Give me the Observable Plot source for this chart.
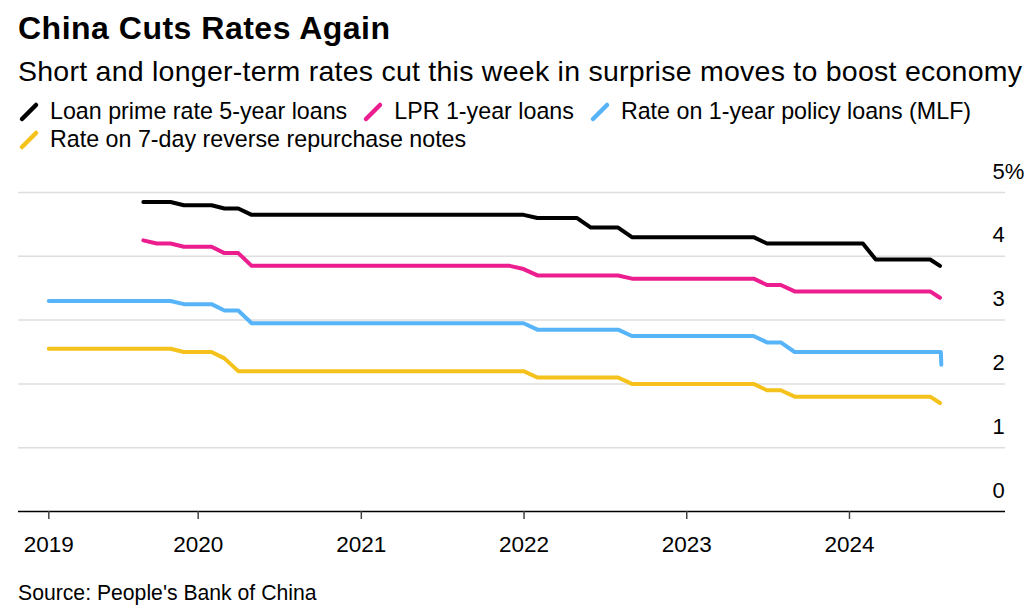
<!DOCTYPE html>
<html><head><meta charset="utf-8">
<script src="https://cdn.jsdelivr.net/npm/d3@7"></script>
<script src="https://cdn.jsdelivr.net/npm/@observablehq/plot@0.6"></script>
<style>
body{margin:0;background:#fff;font-family:"Liberation Sans",Arial,sans-serif;color:#000;}
#wrap{position:relative;width:1032px;height:611px;overflow:hidden;background:#fff}
.t{position:absolute;left:18px;white-space:nowrap;line-height:1;}
#title{top:12px;font-size:32px;font-weight:bold;letter-spacing:0.5px}
#sub{top:57px;font-size:28.5px;letter-spacing:0.25px}
.leg{position:absolute;left:18px;display:flex;font-size:23.25px;line-height:1;white-space:nowrap}
.item{display:flex;align-items:center;margin-right:15px}
.sw{width:22px;height:22px;margin-right:10px;display:block}
#chart{position:absolute;left:0;top:160px}
#src{top:582px;font-size:21.2px;}
</style></head><body>
<div id="wrap">
  <div id="title" class="t">China Cuts Rates Again</div>
  <div id="sub" class="t">Short and longer-term rates cut this week in surprise moves to boost economy</div>
  <div id="leg1" class="leg" style="top:100px"></div>
  <div id="leg2" class="leg" style="top:128px"></div>
  <div id="chart"></div>
  <div id="src" class="t">Source: People's Bank of China</div>
</div>
<script>
// Series names and colours
const seriesNames = ["Loan prime rate 5-year loans", "LPR 1-year loans", "Rate on 1-year policy loans (MLF)", "Rate on 7-day reverse repurchase notes"];
const seriesColors = ["#000000", "#ec1e8f", "#57b4f8", "#f5c21b"];

// Month-end observations (Jan 2019 – Jun 2024)
const months = [
 "2019-01","2019-02","2019-03","2019-04","2019-05","2019-06","2019-07","2019-08","2019-09","2019-10","2019-11","2019-12",
 "2020-01","2020-02","2020-03","2020-04","2020-05","2020-06","2020-07","2020-08","2020-09","2020-10","2020-11","2020-12",
 "2021-01","2021-02","2021-03","2021-04","2021-05","2021-06","2021-07","2021-08","2021-09","2021-10","2021-11","2021-12",
 "2022-01","2022-02","2022-03","2022-04","2022-05","2022-06","2022-07","2022-08","2022-09","2022-10","2022-11","2022-12",
 "2023-01","2023-02","2023-03","2023-04","2023-05","2023-06","2023-07","2023-08","2023-09","2023-10","2023-11","2023-12",
 "2024-01","2024-02","2024-03","2024-04","2024-05","2024-06"
];

// LPR series start in Aug 2019
const lpr5Start = "2019-08";
const lpr5 = [
 4.85,4.85,4.85,4.80,4.80,
 4.80,4.75,4.75,4.65,4.65,4.65,4.65,4.65,4.65,4.65,4.65,4.65,
 4.65,4.65,4.65,4.65,4.65,4.65,4.65,4.65,4.65,4.65,4.65,4.65,
 4.60,4.60,4.60,4.60,4.45,4.45,4.45,4.30,4.30,4.30,4.30,4.30,
 4.30,4.30,4.30,4.30,4.30,4.20,4.20,4.20,4.20,4.20,4.20,4.20,
 4.20,3.95,3.95,3.95,3.95,3.95
];
const lpr1Start = "2019-08";
const lpr1 = [
 4.25,4.20,4.20,4.15,4.15,
 4.15,4.05,4.05,3.85,3.85,3.85,3.85,3.85,3.85,3.85,3.85,3.85,
 3.85,3.85,3.85,3.85,3.85,3.85,3.85,3.85,3.85,3.85,3.85,3.80,
 3.70,3.70,3.70,3.70,3.70,3.70,3.70,3.65,3.65,3.65,3.65,3.65,
 3.65,3.65,3.65,3.65,3.65,3.55,3.55,3.45,3.45,3.45,3.45,3.45,
 3.45,3.45,3.45,3.45,3.45,3.45
];
const mlfStart = "2019-01";
const mlf = [
 3.30,3.30,3.30,3.30,3.30,3.30,3.30,3.30,3.30,3.30,3.25,3.25,
 3.25,3.15,3.15,2.95,2.95,2.95,2.95,2.95,2.95,2.95,2.95,2.95,
 2.95,2.95,2.95,2.95,2.95,2.95,2.95,2.95,2.95,2.95,2.95,2.95,
 2.85,2.85,2.85,2.85,2.85,2.85,2.85,2.75,2.75,2.75,2.75,2.75,
 2.75,2.75,2.75,2.75,2.75,2.65,2.65,2.50,2.50,2.50,2.50,2.50,
 2.50,2.50,2.50,2.50,2.50,2.50
];
const repoStart = "2019-01";
const repo = [
 2.55,2.55,2.55,2.55,2.55,2.55,2.55,2.55,2.55,2.55,2.50,2.50,
 2.50,2.40,2.20,2.20,2.20,2.20,2.20,2.20,2.20,2.20,2.20,2.20,
 2.20,2.20,2.20,2.20,2.20,2.20,2.20,2.20,2.20,2.20,2.20,2.20,
 2.10,2.10,2.10,2.10,2.10,2.10,2.10,2.00,2.00,2.00,2.00,2.00,
 2.00,2.00,2.00,2.00,2.00,1.90,1.90,1.80,1.80,1.80,1.80,1.80,
 1.80,1.80,1.80,1.80,1.80,1.80
];

// Latest daily observations (July 2024 cuts)
const lpr5Latest = [["2024-07-22", 3.85]];
const lpr1Latest = [["2024-07-22", 3.35]];
const mlfLatest = [["2024-07-24", 2.50], ["2024-07-25", 2.30]];
const repoLatest = [["2024-07-22", 1.70]];

// Axis ticks
const xTickDates = ["2019-01-31","2020-01-01","2021-01-01","2022-01-01","2023-01-01","2024-01-01"];
const xTickLabels = ["2019","2020","2021","2022","2023","2024"];
const yTicks = [0,1,2,3,4,5];
const yTickLabels = ["0","1","2","3","4","5%"];

const monthEnd = m => d3.utcDay.offset(d3.utcMonth.offset(new Date(m + "-01T00:00:00Z"), 1), -1);
function build(name, start, values, latest) {
  const i0 = months.indexOf(start);
  const rows = values.map((v, i) => ({series: name, date: monthEnd(months[i0 + i]), value: v}));
  latest.forEach(([d, v]) => rows.push({series: name, date: new Date(d + "T00:00:00Z"), value: v}));
  return rows;
}
const data = [
  ...build(seriesNames[3], repoStart, repo, repoLatest),
  ...build(seriesNames[2], mlfStart, mlf, mlfLatest),
  ...build(seriesNames[1], lpr1Start, lpr1, lpr1Latest),
  ...build(seriesNames[0], lpr5Start, lpr5, lpr5Latest)
];

// Legend
function legendItem(i) {
  const c = seriesColors[i];
  return `<div class="item"><svg class="sw" viewBox="0 0 22 22"><line x1="4" y1="18" x2="18" y2="4" stroke="${c}" stroke-width="4.5" stroke-linecap="round"/></svg><span>${seriesNames[i]}</span></div>`;
}
document.getElementById("leg1").innerHTML = [0,1,2].map(legendItem).join("");
document.getElementById("leg2").innerHTML = [3].map(legendItem).join("");

const font = '"Liberation Sans",Arial,sans-serif';
const xTicks = xTickDates.map(d => new Date(d + "T00:00:00Z"));
const chart = Plot.plot({
  width: 1032, height: 415,
  marginLeft: 18, marginRight: 27, marginTop: 32, marginBottom: 64,
  style: {fontFamily: font, color: "#000", background: "transparent", overflow: "visible"},
  x: {type: "utc", domain: [new Date("2018-11-24T00:00:00Z"), new Date("2024-12-16T00:00:00Z")], label: null},
  y: {domain: [0, 5], label: null},
  color: {domain: seriesNames, range: seriesColors},
  marks: [
    Plot.ruleY(yTicks.filter(d => d > 0), {stroke: "#dedede", strokeWidth: 1.5}),
    Plot.ruleY([0], {stroke: "#000", strokeWidth: 1.5}),
    Plot.line(data, {x: "date", y: "value", z: "series", stroke: "series", strokeWidth: 4, curve: "linear", strokeLinecap: "round", strokeLinejoin: "round"}),
    Plot.axisX({ticks: xTicks, tickFormat: d => xTickLabels[xTicks.findIndex(t => +t === +d)], tickSize: 8, tickPadding: 17, stroke: "#444", strokeWidth: 1.5, fontSize: 22.5, fill: "#000"}),
    Plot.axisY({anchor: "right", ticks: yTicks, tickFormat: d => yTickLabels[yTicks.indexOf(d)], tickSize: 0, tickPadding: 0, dx: -13, dy: -21, textAnchor: "start", fontSize: 22, fill: "#000"})
  ]
});
document.getElementById("chart").appendChild(chart);
</script>
</body></html>
